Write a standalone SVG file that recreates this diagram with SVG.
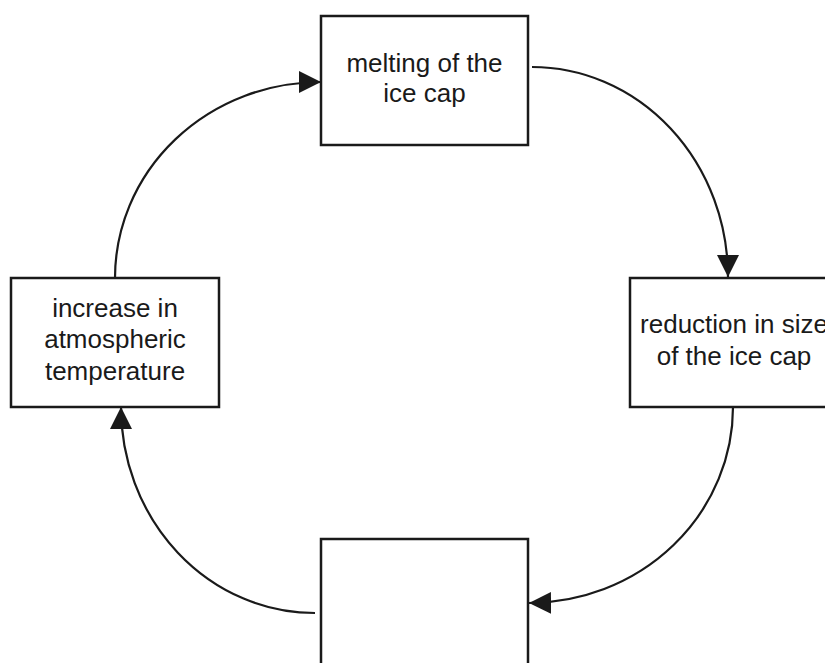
<svg xmlns="http://www.w3.org/2000/svg" width="825" height="663" viewBox="0 0 825 663">
  <style>
    .box { fill: #ffffff; stroke: #1a1a1a; stroke-width: 2.5; }
    .lbl { font-family: "Liberation Sans", Arial, sans-serif; font-size: 26px; fill: #1a1a1a; text-anchor: middle; }
    .conn { fill: none; stroke: #1a1a1a; stroke-width: 2.2; }
  </style>
  <defs>
    <marker id="arrow" markerUnits="userSpaceOnUse" markerWidth="24" markerHeight="24" viewBox="0 0 24 24" refX="22" refY="12" orient="auto">
      <polygon points="0,1 22,12 0,23" fill="#1a1a1a"/>
    </marker>
  </defs>
  <rect width="825" height="663" fill="#ffffff"/>
  <g id="connectors">
    <path class="conn" d="M115,278 A206,196 0 0,1 321,82" marker-end="url(#arrow)"/>
    <path class="conn" d="M532,67 A196,210 0 0,1 728,277" marker-end="url(#arrow)"/>
    <path class="conn" d="M733,407 A205,196 0 0,1 529,603" marker-end="url(#arrow)"/>
    <path class="conn" d="M315,613 A194,206 0 0,1 121,407" marker-end="url(#arrow)"/>
  </g>
  <g id="melting">
    <rect class="box" x="321" y="16" width="207" height="129"/>
    <text class="lbl" x="424.5" y="72">melting of the</text>
    <text class="lbl" x="424.5" y="102">ice cap</text>
  </g>
  <g id="increase">
    <rect class="box" x="11" y="278" width="208" height="129"/>
    <text class="lbl" x="115" y="317">increase in</text>
    <text class="lbl" x="115" y="348">atmospheric</text>
    <text class="lbl" x="115" y="380">temperature</text>
  </g>
  <g id="reduction">
    <rect class="box" x="630" y="278" width="208" height="129"/>
    <text class="lbl" x="734" y="333">reduction in size</text>
    <text class="lbl" x="734" y="365">of the ice cap</text>
  </g>
  <g id="blank">
    <rect class="box" x="321" y="539" width="207" height="140"/>
  </g>
</svg>
